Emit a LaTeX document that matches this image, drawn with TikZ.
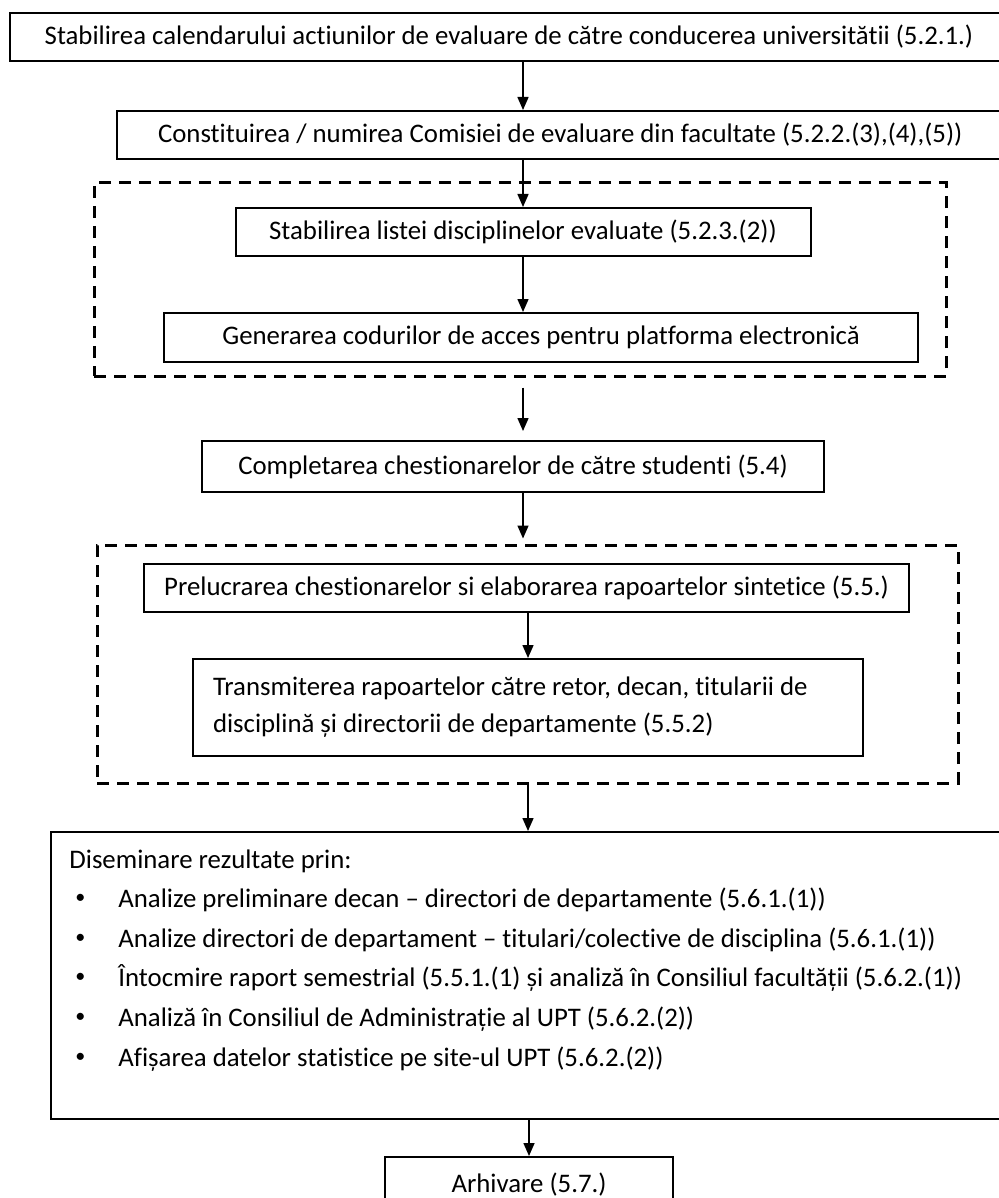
\documentclass[tikz,border=0pt]{standalone}
\usepackage{fontspec}
\setmainfont{Carlito}[Ligatures=NoCommon]
\usetikzlibrary{arrows.meta,calc}

\tikzset{
	procbox/.style={draw, line width=1pt, inner sep=0pt, minimum height=24pt, align=center},
	groupbox/.style={draw, line width=1.5pt, dash pattern=on 6pt off 4pt, inner sep=0pt},
	flow/.style={line width=0.75pt, -{Triangle[length=6.5pt,width=5.5pt]}},
}
\newcommand{\bul}{\hspace*{3pt}\makebox[21.5pt][l]{\raisebox{0.15em}{\scalebox{0.75}{\textbullet}}}}

\begin{document}
\begin{tikzpicture}[x=0.5pt, y=-0.5pt, font=\fontsize{13.4}{18.5}\selectfont]
	\useasboundingbox (0,0) rectangle (998,1198);
	% steps
	\node[procbox, minimum width=499pt] (b1) at (509,37) {Stabilirea calendarului actiunilor de evaluare de către conducerea universitătii (5.2.1.)};
	\node[procbox, minimum width=443.75pt] (b2) at (560.25,135) {Constituirea / numirea Comisiei de evaluare din facultate (5.2.2.(3),(4),(5))};
	\node[groupbox, minimum width=426pt, minimum height=96.5pt] (d1) at (520,279.5) {};
	\node[procbox, minimum width=287.5pt] (b3) at (523,232) {Stabilirea listei disciplinelor evaluate (5.2.3.(2))};
	\node[procbox, minimum width=377pt, minimum height=24.5pt] (b4) at (541,337.5) {Generarea codurilor de acces pentru platforma electronică};
	\node[procbox, minimum width=311pt, minimum height=25.5pt] (b5) at (513,466.5) {Completarea chestionarelor de către studenti (5.4)};
	\node[groupbox, minimum width=430.5pt, minimum height=119pt] (d2) at (527.5,664) {};
	\node[procbox, minimum width=382.5pt] (b6) at (526.5,588) {Prelucrarea chestionarelor si elaborarea rapoartelor sintetice (5.5.)};
	\node[procbox, minimum width=335pt, minimum height=48.5pt, align=flush left, text width=315pt, inner xsep=10pt] (b7) at (528,707.5) {Transmiterea rapoartelor către retor, decan, titularii de\\disciplină și directorii de departamente (5.5.2)};
	\node[procbox, minimum width=476.5pt, minimum height=143.5pt] (b8) at (527.5,975.5) {};
	\node[anchor=north west, align=left, inner sep=0pt, font=\fontsize{13.4}{19.8}\selectfont] (lst) at ([shift={(9.5pt,-9pt)}]b8.north west) {Diseminare rezultate prin:\\
		\bul Analize preliminare decan – directori de departamente (5.6.1.(1))\\
		\bul Analize directori de departament – titulari/colective de disciplina (5.6.1.(1))\\
		\bul Întocmire raport semestrial (5.5.1.(1) și analiză în Consiliul facultății (5.6.2.(1))\\
		\bul Analiză în Consiliul de Administrație al UPT (5.6.2.(2))\\
		\bul Afișarea datelor statistice pe site-ul UPT (5.6.2.(2))};
	\node[procbox, minimum width=144pt, minimum height=28pt] (b9) at (529,1185) {Arhivare (5.7.)};

	\coordinate (ax) at (523,0);
	\draw[flow] (b1.south -| ax) -- (b2.north -| ax);
	\draw[flow] (b2.south -| ax) -- (b3.north);
	\draw[flow] (b3.south) -- (b4.north -| ax);
	\draw[flow, shorten <=5pt, shorten >=4.5pt] (d1.south -| ax) -- (b5.north -| ax);
	\draw[flow, shorten >=2.5pt] (b5.south -| ax) -- (d2.north -| ax);
	\draw[flow] (b6.south -| b7) -- (b7.north);
	\draw[flow] (d2.south -| b7) -- (b8.north -| b7);
	\draw[flow] (b8.south -| b9) -- (b9.north);
\end{tikzpicture}
\end{document}
